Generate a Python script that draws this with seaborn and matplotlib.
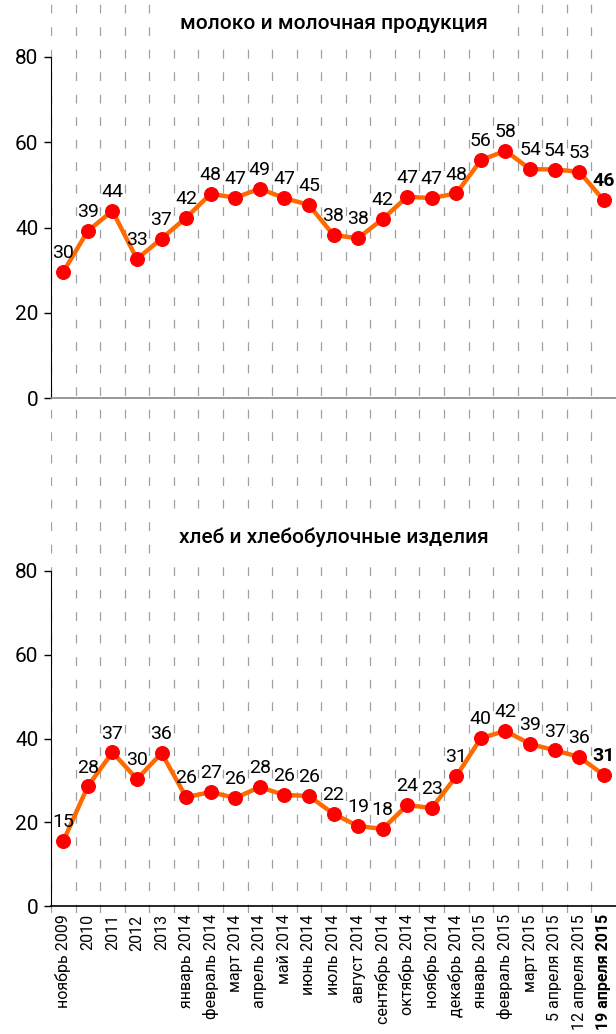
import numpy as np
import pandas as pd
import seaborn as sns
import matplotlib.pyplot as plt

# ==============================
# DATA
# ==============================
periods = ["ноябрь 2009", "2010", "2011", "2012", "2013",
           "январь 2014", "февраль 2014", "март 2014", "апрель 2014", "май 2014",
           "июнь 2014", "июль 2014", "август 2014", "сентябрь 2014", "октябрь 2014",
           "ноябрь 2014", "декабрь 2014", "январь 2015", "февраль 2015", "март 2015",
           "5 апреля 2015", "12 апреля 2015", "19 апреля 2015"]

milk_values = [29.6, 39.2, 43.9, 32.6, 37.4, 42.3, 47.9, 47.0, 49.1, 46.9, 45.3, 38.2,
               37.5, 42.0, 47.2, 46.9, 48.0, 55.8, 58.0, 53.7, 53.6, 53.1, 46.4]
milk_labels = [30, 39, 44, 33, 37, 42, 48, 47, 49, 47, 45, 38,
               38, 42, 47, 47, 48, 56, 58, 54, 54, 53, 46]

bread_values = [15.5, 28.6, 36.7, 30.3, 36.5, 26.0, 27.2, 25.8, 28.4, 26.5, 26.3, 22.0,
                19.1, 18.4, 24.1, 23.4, 31.0, 40.1, 41.8, 38.7, 37.2, 35.6, 31.3]
bread_labels = [15, 28, 37, 30, 36, 26, 27, 26, 28, 26, 26, 22,
                19, 18, 24, 23, 31, 40, 42, 39, 37, 36, 31]

titles = ["молоко и молочная продукция", "хлеб и хлебобулочные изделия"]

# ==============================
# STYLE
# ==============================
sns.set_style("white")
plt.rcParams['font.family'] = ['Roboto', 'DejaVu Sans']
plt.rcParams['text.color'] = 'black'
plt.rcParams['xtick.color'] = 'black'
plt.rcParams['ytick.color'] = 'black'

LINE_COLOR = "#ff6a00"
DOT_COLOR = "#ff0000"
GRID_COLOR = "#a0a0a0"

W, H = 616, 1034
fig = plt.figure(figsize=(W / 100, H / 100), dpi=100)

def fx(px):
    return px / W

def fy(px):
    return 1 - px / H

n = len(periods)
xpos = np.arange(n)

# background axes with dashed separators running through both panels
bg = fig.add_axes([fx(51), fy(913), fx(616) - fx(51), fy(0) - fy(913)])
bg.set_xlim(-0.5, n - 0.5)
bg.set_ylim(0, 1)
bg.axis("off")
for b in np.arange(-0.5, n - 0.5, 1.0):
    bg.axvline(b, color=GRID_COLOR, lw=0.9, linestyle=(0, (7, 11)))

panels = [
    (milk_values, milk_labels, 57, 398, "#888888"),
    (bread_values, bread_labels, 571, 906, "#000000"),
]

for i, (vals, labs, top_px, bot_px, base_color) in enumerate(panels):
    ax = fig.add_axes([fx(51), fy(bot_px), fx(616) - fx(51), fy(top_px) - fy(bot_px)])
    ax.patch.set_alpha(0)
    df = pd.DataFrame({"x": xpos, "y": vals})
    sns.lineplot(data=df, x="x", y="y", ax=ax, color=LINE_COLOR, linewidth=3.2,
                 marker="o", markersize=10, markerfacecolor=DOT_COLOR,
                 markeredgecolor=DOT_COLOR, clip_on=False, zorder=3)

    for j, (x, v, lab) in enumerate(zip(xpos, vals, labs)):
        last = j == n - 1
        ax.annotate(str(lab), (x, v), xytext=(0, 7), textcoords="offset points",
                    ha="center", va="bottom", fontsize=14,
                    fontweight="bold" if last else "normal",
                    annotation_clip=False, zorder=4)

    ax.set_xlim(-0.5, n - 0.5)
    ax.set_ylim(0, 80)
    ax.set_yticks([0, 20, 40, 60, 80])
    ax.tick_params(axis="y", length=5, width=1, color="black", labelsize=15, pad=4,
                   left=True)
    ax.set_xlabel("")
    ax.set_ylabel("")
    sns.despine(ax=ax, top=True, right=True)
    ax.spines["left"].set_color("black")
    ax.spines["bottom"].set_color(base_color)
    ax.spines["bottom"].set_linewidth(1.2)

    ax.set_title(titles[i], fontsize=15, fontweight="medium", pad=20,
                 bbox=dict(facecolor="white", edgecolor="none", pad=9))

    if i == 0:
        ax.set_xticks([])
    else:
        ax.set_xticks(xpos)
        ax.set_xticklabels(periods, rotation=90, fontsize=11.5)
        ax.tick_params(axis="x", length=0, pad=6)
        ax.get_xticklabels()[-1].set_fontweight("bold")

fig.savefig("out.png", dpi=100)
